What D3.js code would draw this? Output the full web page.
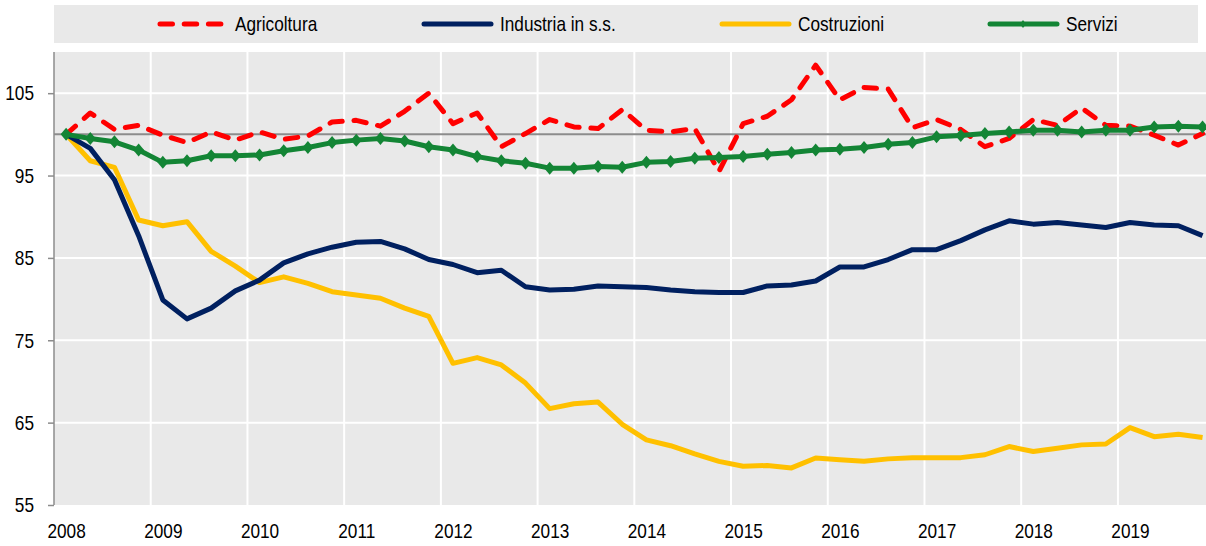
<!DOCTYPE html>
<html>
<head>
<meta charset="utf-8">
<script src="https://cdn.jsdelivr.net/npm/d3@7"></script>
<style>
body { margin:0; background:#fff; }
text { font-family:"Liberation Sans",Arial,sans-serif; fill:#000; }
</style>
</head>
<body>
<svg id="graph"></svg>
<script>
// quarters 2008Q1 .. 2019Q4
var years = ["2008","2009","2010","2011","2012","2013","2014","2015","2016","2017","2018","2019"];
var seriesNames = ["Agricoltura","Industria in s.s.","Costruzioni","Servizi"];

var agricoltura = [100,102.6,100.6,101.1, 99.9,99.0,100.3,99.3, 100.3,99.4,99.8,101.5,
                   101.7,101.0,102.8,105.0, 101.3,102.6,98.5,100.1, 101.8,100.9,100.7,103.0,
                   100.5,100.3,100.7,95.5, 101.3,102.2,104.2,108.4, 104.2,105.7,105.5,100.8,
                   101.8,100.6,98.5,99.5, 101.8,101.1,103.2,101.1, 101.0,99.9,98.7,100.1];
var industria = [100,98.3,94.5,87.7, 79.9,77.6,78.9,81.0, 82.3,84.4,85.5,86.3,
                 86.9,87.0,86.1,84.8, 84.2,83.2,83.5,81.5, 81.1,81.2,81.6,81.5,
                 81.4,81.1,80.9,80.8, 80.8,81.6,81.7,82.2, 83.9,83.9,84.8,86.0,
                 86.0,87.1,88.4,89.5, 89.1,89.3,89.0,88.7, 89.3,89.0,88.9,87.7];
var costruzioni = [100,96.8,96.0,89.6, 88.9,89.4,85.8,84.0, 82.0,82.7,81.9,80.9,
                   80.5,80.1,78.9,77.9, 72.2,72.9,72.0,69.8, 66.7,67.3,67.5,64.8,
                   62.9,62.2,61.2,60.3, 59.7,59.8,59.5,60.7, 60.5,60.3,60.6,60.75,
                   60.75,60.75,61.1,62.1, 61.5,61.9,62.3,62.4, 64.4,63.3,63.6,63.2];
var servizi = [100,99.5,99.1,98.1, 96.6,96.8,97.4,97.4, 97.5,98.0,98.4,99.0,
               99.3,99.5,99.2,98.5, 98.1,97.3,96.8,96.5, 95.9,95.9,96.1,96.0,
               96.6,96.7,97.1,97.2, 97.3,97.6,97.8,98.1, 98.2,98.4,98.8,99.0,
               99.7,99.85,100.1,100.3, 100.5,100.5,100.3,100.5, 100.5,100.9,101.0,100.9];
var yTicks = [55,65,75,85,95,105];

// the text in the picture is a narrow sans, so squeeze it horizontally
var narrow = 0.82;

var initGraph = function(target)
{
    var screen = {width:1206, height:546};
    var plot = {left:54, top:52, bottom:505, step:24.18};
    var n = servizi.length;

    var svg = d3.select(target)
        .attr("width",screen.width)
        .attr("height",screen.height);

    var xScale = d3.scaleLinear()
        .domain([-0.5, n-0.5])
        .range([plot.left, plot.left+n*plot.step]);
    var yScale = d3.scaleLinear()
        .domain([55,110])
        .range([plot.bottom, plot.top]);

    // plot background
    svg.append("rect")
        .attr("x",plot.left).attr("y",plot.top)
        .attr("width",xScale(n-0.5)-plot.left)
        .attr("height",plot.bottom-plot.top)
        .attr("fill","#e9e9e9");

    // grid
    var grid = svg.append("g");
    grid.selectAll("line.h")
        .data(yTicks.slice(1))
        .enter().append("line")
        .attr("x1",plot.left).attr("x2",xScale(n-0.5))
        .attr("y1",function(d){return yScale(d);})
        .attr("y2",function(d){return yScale(d);})
        .attr("stroke","#fff").attr("stroke-width",2);
    grid.selectAll("line.v")
        .data(d3.range(1,years.length))
        .enter().append("line")
        .attr("x1",function(k){return xScale(4*k-0.5);})
        .attr("x2",function(k){return xScale(4*k-0.5);})
        .attr("y1",plot.top).attr("y2",plot.bottom)
        .attr("stroke","#fff").attr("stroke-width",2);
    grid.append("line")
        .attr("x1",plot.left).attr("x2",xScale(n-0.5))
        .attr("y1",yScale(100)).attr("y2",yScale(100))
        .attr("stroke","#8c8c8c").attr("stroke-width",2);

    // axes
    var yAxis = d3.axisLeft(yScale)
        .tickValues(yTicks)
        .tickSize(6)
        .tickPadding(14);
    var ya = svg.append("g")
        .attr("transform","translate("+plot.left+",0)")
        .call(yAxis);
    ya.select(".domain").attr("stroke","#8c8c8c").attr("stroke-width",1.5)
        .attr("d","M0,"+plot.top+"V"+plot.bottom);
    ya.selectAll(".tick line").attr("stroke","#8c8c8c").attr("stroke-width",1.5);
    ya.selectAll("text")
        .style("font-size","21px").attr("fill","#000")
        .attr("x",-20/narrow)
        .attr("transform","scale("+narrow+",1)");

    var xAxis = d3.axisBottom(xScale)
        .tickValues(d3.range(0,n,4))
        .tickFormat(function(i){return years[i/4];})
        .tickSize(0)
        .tickPadding(18);
    var xa = svg.append("g")
        .attr("transform","translate(0,"+plot.bottom+")")
        .call(xAxis);
    xa.select(".domain").remove();
    xa.selectAll("text")
        .style("font-size","21px").attr("fill","#000")
        .attr("transform","scale("+narrow+",1)");

    // lines
    var line = d3.line()
        .x(function(d,i){return xScale(i);})
        .y(function(d){return yScale(d);});

    svg.append("path").datum(costruzioni)
        .attr("d",line).attr("fill","none")
        .attr("stroke","#ffc000").attr("stroke-width",5).attr("stroke-linejoin","round");
    svg.append("path").datum(industria)
        .attr("d",line).attr("fill","none")
        .attr("stroke","#002060").attr("stroke-width",5).attr("stroke-linejoin","round");
    svg.append("path").datum(agricoltura)
        .attr("d",line).attr("fill","none")
        .attr("stroke","#ff0000").attr("stroke-width",5)
        .attr("stroke-dasharray","12.5,11.7").attr("stroke-linecap","round").attr("stroke-linejoin","round");
    svg.append("path").datum(servizi)
        .attr("d",line).attr("fill","none")
        .attr("stroke","#138535").attr("stroke-width",5).attr("stroke-linejoin","round");
    svg.selectAll("path.diamond")
        .data(servizi)
        .enter().append("path")
        .attr("class","diamond")
        .attr("d","M0,-6.5L5.5,0L0,6.5L-5.5,0Z")
        .attr("transform",function(d,i){return "translate("+xScale(i)+","+yScale(d)+")";})
        .attr("fill","#138535");

    // legend
    svg.append("rect")
        .attr("x",54).attr("y",5).attr("width",1144).attr("height",38)
        .attr("fill","#e9e9e9");
    var legendX = [158,422,720,988];
    var colors = ["#ff0000","#002060","#ffc000","#138535"];
    var items = svg.selectAll("g.leg")
        .data(seriesNames)
        .enter().append("g")
        .attr("transform",function(d,i){return "translate("+legendX[i]+",24)";});
    items.append("line")
        .attr("x1",2).attr("x2",function(d,i){return i==0?64:69;})
        .attr("y1",0).attr("y2",0)
        .attr("stroke",function(d,i){return colors[i];})
        .attr("stroke-width",5)
        .attr("stroke-linecap","round")
        .attr("stroke-dasharray",function(d,i){return i==0?"12.5,11.7":null;});
    items.filter(function(d,i){return i==3;})
        .append("path")
        .attr("d","M35,-4L38,0L35,4L32,0Z")
        .attr("fill","#138535");
    items.append("text")
        .attr("transform",function(d,i){return "translate("+(i==0?77:78)+",0) scale("+narrow+",1)";})
        .attr("dy","0.35em")
        .style("font-size","21px")
        .text(function(d){return d;});
}

initGraph("#graph");
</script>
</body>
</html>
